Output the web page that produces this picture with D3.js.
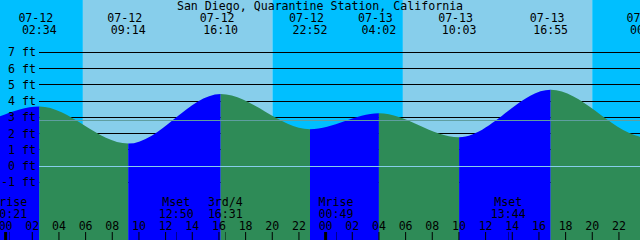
<!DOCTYPE html>
<html>
<head>
<meta charset="utf-8">
<script src="https://cdn.jsdelivr.net/npm/d3@7"></script>
<style>
  body { margin: 0; background: #fff; }
  svg { display: block; }
  text { font-family: "DejaVu Sans Mono", monospace; font-size: 11.6px; fill: #000; }
</style>
</head>
<body>
<svg id="chart" width="640" height="240"></svg>
<script>
const title = "San Diego, Quarantine Station, California";

// window shown
const startTime = "07-11 23:37";
const endTime = "07-13 23:37";

// high / low tides, first two and last one sit off the edges
const tideTimes = ["07-11 14:30", "07-11 20:10", "07-12 02:34", "07-12 09:14", "07-12 16:10", "07-12 22:52",
                   "07-13 04:02", "07-13 10:03", "07-13 16:55", "07-14 00:11", "07-14 06:40"];
const tideHeights = [4.3, 2.3, 3.66, 1.38, 4.44, 2.27, 3.25, 1.77, 4.69, 1.75, 3.3];

// sunrise, sunset, sunrise, sunset
const sunTimes = ["07-12 05:50", "07-12 20:03", "07-13 05:50", "07-13 20:02"];

const eventNames = ["Mrise", "Mset", "3rd/4", "Mrise", "Mset"];
const eventTimes = ["07-12 00:21", "07-12 12:50", "07-12 16:31", "07-13 00:49", "07-13 13:44"];

const levels = [7, 6, 5, 4, 3, 2, 1, 0, -1];
const meanLevel = 2.81;

const skyDay = "#87ceeb", skyNight = "#00bfff";
const rising = "#0000ff", falling = "#2e8b57";

const W = 640, H = 240;
const parse = d3.timeParse("%m-%d %H:%M");
const fmtDate = d3.timeFormat("%m-%d"), fmtTime = d3.timeFormat("%H:%M");

const x = d3.scaleTime().domain([parse(startTime), parse(endTime)]).range([0, W]);
const y = d3.scaleLinear().domain([0, 7]).range([166, 52.3]);

const svg = d3.select("#chart");

// day / night background, starts at night
const sunEdges = [parse(startTime), ...sunTimes.map(parse), parse(endTime)];
svg.selectAll("rect.sky")
  .data(d3.pairs(sunEdges))
  .join("rect")
    .attr("class", "sky")
    .attr("x", d => x(d[0]))
    .attr("width", d => x(d[1]) - x(d[0]))
    .attr("y", 0)
    .attr("height", H)
    .attr("fill", (d, i) => i % 2 ? skyDay : skyNight);

svg.selectAll("line.grid")
  .data(levels)
  .join("line")
    .attr("class", "grid")
    .attr("x1", 39).attr("x2", W)
    .attr("y1", d => Math.floor(y(d)) + 0.5)
    .attr("y2", d => Math.floor(y(d)) + 0.5)
    .attr("stroke", "#000");

// water
const tides = tideTimes.map((t, i) => ({t: parse(t), h: tideHeights[i]}));
const area = d3.area()
  .x(d => x(d.t))
  .y0(H)
  .y1(d => y(d.h))
  .curve(d3.curveMonotoneX);

svg.append("defs").append("clipPath").attr("id", "water")
  .append("path").attr("d", area(tides));

svg.append("g").attr("clip-path", "url(#water)")
  .selectAll("rect")
  .data(d3.pairs(tides))
  .join("rect")
    .attr("x", d => x(d[0].t))
    .attr("width", d => x(d[1].t) - x(d[0].t))
    .attr("y", 0)
    .attr("height", H)
    .attr("fill", d => d[1].h > d[0].h ? rising : falling);

// mean level and datum
svg.append("line")
  .attr("x1", 39).attr("x2", W)
  .attr("y1", Math.floor(y(meanLevel)) + 0.5).attr("y2", Math.floor(y(meanLevel)) + 0.5)
  .attr("stroke", "#5f9ea0");
svg.append("line")
  .attr("x1", 39).attr("x2", W)
  .attr("y1", Math.floor(y(0)) + 0.5).attr("y2", Math.floor(y(0)) + 0.5)
  .attr("stroke", "#87ceeb");

svg.selectAll("text.level")
  .data(levels)
  .join("text")
    .attr("class", "level")
    .attr("x", 36)
    .attr("y", d => y(d) + 4)
    .attr("text-anchor", "end")
    .text(d => d + " ft");

svg.append("text")
  .attr("x", W / 2).attr("y", 10)
  .attr("text-anchor", "middle")
  .text(title);

// high/low labels at top (only those near the window)
const tideLabels = svg.selectAll("g.tide")
  .data(tides.filter(d => x(d.t) > 0 && x(d.t) < W + 20))
  .join("g")
    .attr("class", "tide");
tideLabels.append("text")
  .attr("x", d => x(d.t) - 3.5).attr("y", 21.5)
  .attr("text-anchor", "middle")
  .text(d => fmtDate(d.t));
tideLabels.append("text")
  .attr("x", d => x(d.t)).attr("y", 33.5)
  .attr("text-anchor", "middle")
  .text(d => fmtTime(d.t));

// moon events
const events = eventTimes.map((t, i) => ({t: parse(t), name: eventNames[i]}));
const ev = svg.selectAll("g.event")
  .data(events)
  .join("g")
    .attr("class", "event");
ev.append("text")
  .attr("x", d => x(d.t)).attr("y", 206)
  .attr("text-anchor", "middle")
  .text(d => d.name);
ev.append("text")
  .attr("x", d => x(d.t)).attr("y", 218)
  .attr("text-anchor", "middle")
  .text(d => fmtTime(d.t));
ev.append("line")
  .attr("x1", d => Math.floor(x(d.t)) + 0.5).attr("x2", d => Math.floor(x(d.t)) + 0.5)
  .attr("y1", 232).attr("y2", H)
  .attr("stroke", "#000")
  .attr("stroke-opacity", 0.45);

// hour axis
const axis = svg.append("g")
  .attr("transform", `translate(0,${H})`)
  .call(d3.axisTop(x)
    .ticks(d3.timeHour.every(2))
    .tickFormat(d3.timeFormat("%H"))
    .tickSize(8)
    .tickPadding(2.5));
axis.select(".domain").remove();
axis.attr("font-family", null).attr("font-size", null);
axis.selectAll(".tick line")
  .attr("stroke", "#000")
  .attr("stroke-width", d => d.getHours() === 0 ? 3 : 1);
axis.selectAll(".tick text").attr("fill", "#000");
</script>
</body>
</html>
